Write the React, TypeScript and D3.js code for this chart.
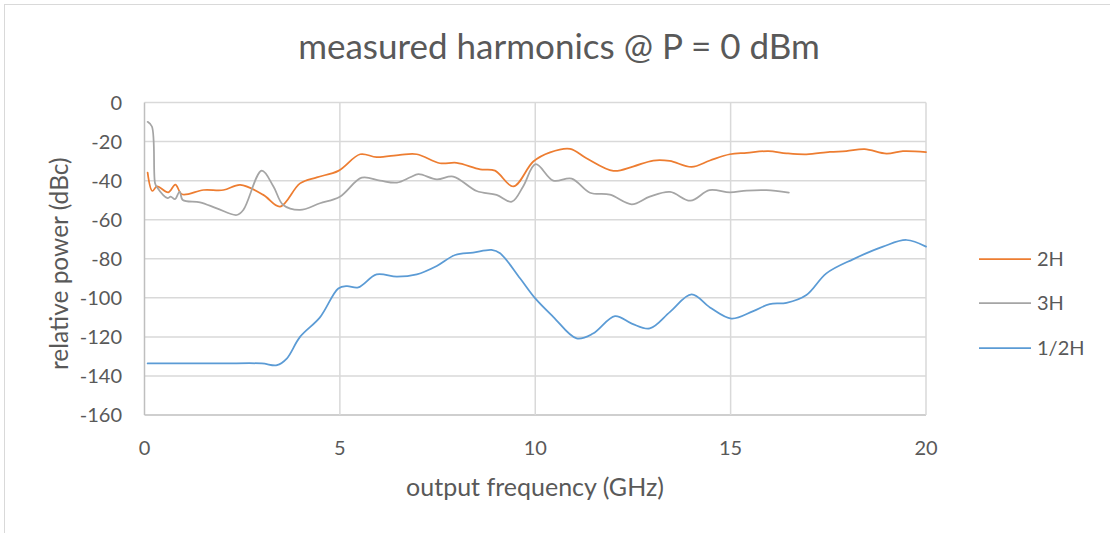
import * as d3 from 'd3'

type Pt = [number, number]

const seriesNames = ['2H', '3H', '1/2H']

// 2H (GHz, dBc)
const h2: Pt[] = [
  [0.08, -35.9], [0.2, -45.3], [0.32, -43], [0.61, -46], [0.79, -42], [0.96, -47],
  [1.51, -44.8], [2.02, -44.8], [2.45, -42.2], [3.04, -47.3], [3.47, -53.3], [3.98, -41.4],
  [4.41, -38.3], [4.96, -35], [5.52, -26.5], [5.94, -28], [6.54, -26.8], [6.97, -26.5],
  [7.56, -31.1], [7.99, -30.9], [8.59, -34.2], [8.97, -34.9], [9.44, -43], [9.95, -30.2],
  [10.38, -25.5], [10.89, -23.7], [11.31, -28.5], [12.0, -35], [12.5, -32.8], [13.02, -29.7],
  [13.44, -29.9], [14.0, -33], [14.47, -29.7], [14.98, -26.5], [15.41, -25.8], [15.96, -24.9],
  [16.43, -26], [16.94, -26.5], [17.54, -25.3], [17.96, -24.9], [18.43, -23.9], [18.99, -26.2],
  [19.41, -24.9], [20, -25.4],
]

// 3H
const h3: Pt[] = [
  [0.08, -9.9], [0.19, -12.3], [0.27, -41.3], [0.32, -43.4], [0.59, -49], [0.67, -48.2],
  [0.78, -49.5], [0.9, -45.6], [0.98, -49.9], [1.42, -51.1], [1.85, -54.2], [2.36, -57.6],
  [2.53, -55], [3.0, -34.9], [3.3, -43], [3.55, -52.5], [3.98, -55], [4.49, -51.6],
  [5.0, -48.2], [5.56, -38.5], [6.03, -40], [6.46, -41], [6.8, -38.3], [7.01, -36.7], [7.48, -39.3],
  [7.9, -37.9], [8.5, -45.3], [9.01, -47.3], [9.4, -50.8], [9.69, -43], [10.01, -31.6],
  [10.46, -40], [10.93, -39], [11.4, -46.2], [11.91, -47.2], [12.47, -52.1], [12.93, -48.2],
  [13.45, -45.8], [13.97, -50.3], [14.46, -44.9], [14.98, -46], [15.41, -45.1], [15.92, -44.9],
  [16.49, -46.2],
]

// 1/2H
const hHalf: Pt[] = [
  [0.08, -133.6], [1, -133.6], [2, -133.6], [3.0, -133.6], [3.39, -134.5], [3.64, -131.1],
  [3.98, -120], [4.49, -110], [4.96, -95.2], [5.18, -94], [5.47, -94.7], [5.94, -88],
  [6.46, -89.2], [6.97, -88], [7.48, -83.7], [7.95, -78.1], [8.41, -76.9], [8.88, -75.5],
  [9.1, -77.2], [9.61, -90], [10.0, -100.3], [10.46, -109.7], [11.06, -120.8], [11.48, -118.3],
  [12.04, -109.4], [12.47, -113.2], [12.93, -115.7], [13.45, -107.2], [14.0, -98.3], [14.47, -104.9],
  [15.02, -110.6], [15.58, -106.8], [16.0, -103.2], [16.43, -102.6], [16.94, -98.6], [17.45, -87.5],
  [18.13, -80.3], [18.9, -73.8], [19.5, -70.4], [20, -73.8],
]

const xTicks = [0, 5, 10, 15, 20]
const yTicks = [0, -20, -40, -60, -80, -100, -120, -140, -160]

const colors = ['#ED7D31', '#A5A5A5', '#5B9BD5']
const font = 'Lato, "Open Sans", sans-serif'
const textColor = '#595959'

export default function App() {
  const W = 1110
  const H = 533
  const plot = { left: 144.5, right: 926, top: 102.5, bottom: 415 }

  const x = d3.scaleLinear().domain([0, 20]).range([plot.left, plot.right])
  const y = d3.scaleLinear().domain([0, -160]).range([plot.top, plot.bottom])

  const line = d3.line<Pt>()
    .x(d => x(d[0]))
    .y(d => y(d[1]))
    .curve(d3.curveCatmullRom.alpha(0.5))

  const data = [h2, h3, hHalf]
  const legendY = [259, 303, 348]

  return (
    <svg width={W} height={H} style={{ position: 'absolute', left: 0, top: 0, background: '#fff' }}>
      <rect x={4.5} y={4.5} width={W + 10} height={H + 10} fill="#fff" stroke="#D9D9D9" />

      <text x={559} y={59} textAnchor="middle" fontFamily={font} fontSize={35} fill={textColor}>
        measured harmonics @ P = 0 dBm
      </text>

      {yTicks.map(t => (
        <line key={'gy' + t} x1={plot.left} x2={plot.right} y1={y(t)} y2={y(t)}
          stroke={t === -160 ? '#BFBFBF' : '#D9D9D9'} strokeWidth={1.5} />
      ))}
      {xTicks.map(t => (
        <line key={'gx' + t} x1={x(t)} x2={x(t)} y1={plot.top} y2={plot.bottom}
          stroke={t === 0 ? '#BFBFBF' : '#D9D9D9'} strokeWidth={1.5} />
      ))}

      {yTicks.map(t => (
        <text key={'ty' + t} x={122} y={y(t) + 7} textAnchor="end" fontFamily={font}
          fontSize={20} fill={textColor}>{t}</text>
      ))}
      {xTicks.map(t => (
        <text key={'tx' + t} x={x(t)} y={455} textAnchor="middle" fontFamily={font}
          fontSize={20} fill={textColor}>{t}</text>
      ))}

      <text x={535} y={496} textAnchor="middle" fontFamily={font} fontSize={25} fill={textColor}>
        output frequency (GHz)
      </text>
      <text transform={`translate(68,${(plot.top + plot.bottom) / 2 + 5}) rotate(-90)`} textAnchor="middle"
        fontFamily={font} fontSize={24.5} fill={textColor}>
        relative power (dBc)
      </text>

      {data.map((d, i) => (
        <path key={seriesNames[i]} d={line(d) ?? ''} fill="none" stroke={colors[i]} strokeWidth={1.75}
          strokeLinejoin="round" strokeLinecap="round" />
      ))}

      {seriesNames.map((n, i) => (
        <g key={'lg' + n}>
          <line x1={979} x2={1031} y1={legendY[i]} y2={legendY[i]} stroke={colors[i]} strokeWidth={1.75} />
          <text x={1037} y={legendY[i] + 7} fontFamily={font} fontSize={20} fill={textColor}>{n}</text>
        </g>
      ))}
    </svg>
  )
}
